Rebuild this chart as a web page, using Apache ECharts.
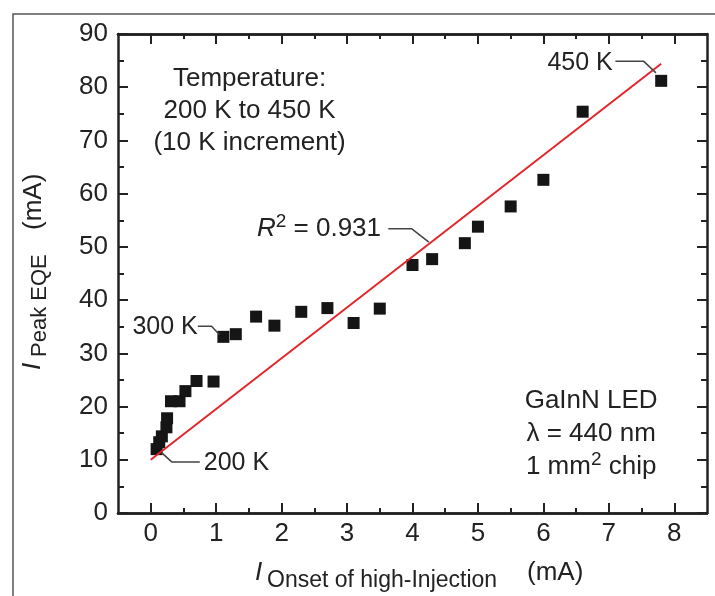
<!DOCTYPE html>
<html><head><meta charset="utf-8">
<script src="https://cdn.jsdelivr.net/npm/echarts@6/dist/echarts.min.js"></script>
<style>html,body{margin:0;padding:0;background:#fff;}#c{width:715px;height:596px;}</style>
</head><body><div id="c"></div>
<script>
// ---- data ----
const xTicks = [0, 1, 2, 3, 4, 5, 6, 7, 8];
const xMinorTicks = [0.5, 1.5, 2.5, 3.5, 4.5, 5.5, 6.5, 7.5];
const temperatureK = [200,210,220,230,240,250,260,270,280,290,300,310,320,330,340,350,360,370,380,390,400,410,420,430,440,450];
const onsetCurrent = [0.09,0.13,0.17,0.24,0.25,0.31,0.44,0.53,0.70,0.96,1.11,1.30,1.61,1.89,2.30,2.70,3.10,3.50,4.00,4.30,4.80,5.00,5.50,6.00,6.60,7.80];
const peakCurrent  = [12.0,13.3,14.4,16.1,17.8,21.0,21.0,22.9,24.8,24.7,33.1,33.6,36.9,35.2,37.8,38.5,35.7,38.4,46.6,47.7,50.7,53.8,57.6,62.6,75.4,81.2];
const fitX = [0, 7.8];
const fitY = [10, 84.4];

// annotation leader lines (data coordinates)
const leader450X = [7.10, 7.53, 7.72], leader450Y = [84.9, 84.9, 82.7];
const leaderR2X  = [3.63, 3.99, 4.25], leaderR2Y  = [53.4, 53.4, 50.9];
const leader300X = [0.72, 0.93, 1.05], leader300Y = [35.1, 35.1, 33.5];
const leader200X = [0.17, 0.32, 0.75], leader200Y = [11.3, 9.6, 9.6];

const FONT = '"Liberation Sans", Arial, Helvetica, sans-serif';
const INK = '#222';

const chart = echarts.init(document.getElementById('c'), null, {renderer: 'canvas'});

function xAx(pos, ticks, len, showLabel) {
  return {
    type: 'value', position: pos, min: -0.5, max: 8.5,
    axisLine: {show: true, onZero: false, lineStyle: {color: INK, width: 2.5}},
    axisTick: {show: true, inside: true, length: len, customValues: ticks, lineStyle: {color: INK, width: 2}},
    axisLabel: {show: showLabel, customValues: xTicks, fontSize: 26, color: INK, fontFamily: FONT, margin: 8},
    splitLine: {show: false}
  };
}
function yAx(pos, showLabel) {
  return {
    type: 'value', position: pos, min: 0, max: 90, interval: 10,
    axisLine: {show: true, onZero: false, lineStyle: {color: INK, width: 2.5}},
    axisTick: {show: true, inside: true, length: 10, lineStyle: {color: INK, width: 2}},
    minorTick: {show: true, splitNumber: 2, length: 6, lineStyle: {color: INK, width: 2}},
    axisLabel: {show: showLabel, fontSize: 26, color: INK, fontFamily: FONT, margin: 10},
    splitLine: {show: false}
  };
}
function lineSeries(xs, ys, color, width, z) {
  return {type: 'line', xAxisIndex: 0, yAxisIndex: 0, data: xs.map((x, i) => [x, ys[i]]),
    symbol: 'none', silent: true, z: z, lineStyle: {color: color, width: width, opacity: 1}, animation: false};
}
function textSeries(x, y, text, label) {
  return {type: 'scatter', xAxisIndex: 0, yAxisIndex: 0, data: [[x, y]], symbolSize: 0.1, silent: true, z: 6,
    itemStyle: {color: 'rgba(0,0,0,0)', opacity: 1},
    label: Object.assign({show: true, formatter: text, fontFamily: FONT, color: INK, fontSize: 25, opacity: 1}, label)};
}

const supRich = {
  n: {fontSize: 26, fontFamily: FONT, color: INK, lineHeight: 33},
  it: {fontSize: 26, fontFamily: FONT, color: INK, fontStyle: 'italic', lineHeight: 33},
  sup: {fontSize: 19, fontFamily: FONT, color: INK, verticalAlign: 'top', lineHeight: 33}
};

chart.setOption({
  animation: false,
  backgroundColor: '#fff',
  grid: {left: 118, right: 8, top: 34, bottom: 83, containLabel: false, outerBoundsMode: 'none'},
  xAxis: [
    xAx('bottom', xTicks, 10, true),
    xAx('top', xTicks, 10, false),
    xAx('bottom', xMinorTicks, 5, false),
    xAx('top', xMinorTicks, 5, false)
  ],
  yAxis: [yAx('left', true), yAx('right', false)],
  graphic: [
    {type: 'rect', shape: {x: 13, y: 14, width: 720, height: 600}, style: {fill: 'none', stroke: '#555', lineWidth: 1.5}, z: -10, silent: true},
    // x axis title
    {type: 'text', x: 255, y: 573, style: {text: 'I', font: 'italic 26px ' + FONT, fill: INK, verticalAlign: 'middle'}},
    {type: 'text', x: 267, y: 581, style: {text: 'Onset of high-Injection', font: '23px ' + FONT, fill: INK, verticalAlign: 'middle'}},
    {type: 'text', x: 527, y: 573, style: {text: '(mA)', font: '26px ' + FONT, fill: INK, verticalAlign: 'middle'}},
    // y axis title (rotated)
    {type: 'group', x: 0, y: 370, rotation: Math.PI / 2, children: [
      {type: 'text', x: 0, y: 33, style: {text: 'I', font: 'italic 26px ' + FONT, fill: INK, verticalAlign: 'middle'}},
      {type: 'text', x: 13, y: 40, style: {text: 'Peak EQE', font: '22px ' + FONT, fill: INK, verticalAlign: 'middle'}},
      {type: 'text', x: 140, y: 34, style: {text: '(mA)', font: '26px ' + FONT, fill: INK, verticalAlign: 'middle'}}
    ]}
  ],
  series: [
    {type: 'scatter', name: 'data', xAxisIndex: 0, yAxisIndex: 0,
      data: onsetCurrent.map((x, i) => [x, peakCurrent[i], temperatureK[i]]),
      symbol: 'rect', symbolSize: 12, itemStyle: {color: '#151515', opacity: 1}, z: 3},
    lineSeries(fitX, fitY, '#e3262b', 2, 4),
    lineSeries(leader450X, leader450Y, '#444', 1.5, 5),
    lineSeries(leaderR2X, leaderR2Y, '#444', 1.5, 5),
    lineSeries(leader300X, leader300Y, '#444', 1.5, 5),
    lineSeries(leader200X, leader200Y, '#444', 1.5, 5),
    textSeries(7.06, 84.6, '450 K', {position: 'left', distance: 0}),
    textSeries(3.52, 53.4, '{it|R}{sup|2}{n| = 0.931}', {position: 'left', distance: 0, rich: supRich}),
    textSeries(0.72, 35.0, '300 K', {position: 'left', distance: 0}),
    textSeries(0.81, 9.4, '200 K', {position: 'right', distance: 0}),
    textSeries(1.51, 75.5, 'Temperature:\n200 K to 450 K\n(10 K increment)', {position: 'inside', align: 'center', verticalAlign: 'middle', fontSize: 26, lineHeight: 32}),
    textSeries(6.73, 14.9, '{n|GaInN LED}\n{n|λ = 440 nm}\n{n|1 mm}{sup|2}{n| chip}', {position: 'inside', align: 'center', verticalAlign: 'middle', rich: supRich})
  ]
});
</script></body></html>
